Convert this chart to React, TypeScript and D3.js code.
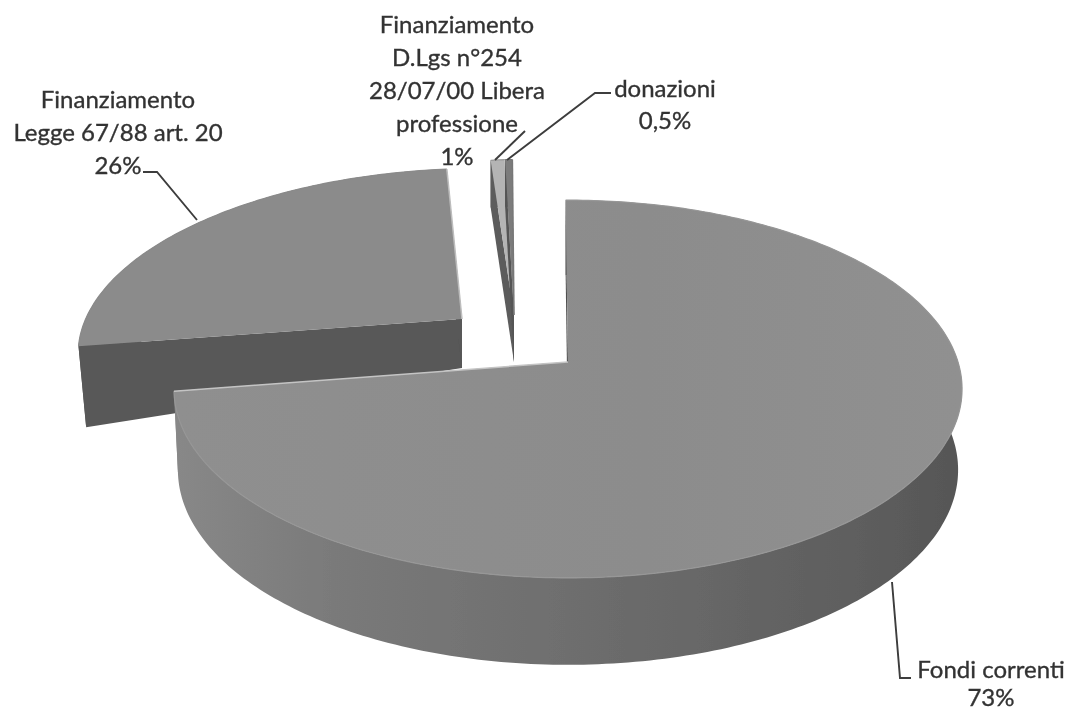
import React from "react";
import * as d3 from "d3";

// Data
const categories = ["Fondi correnti", "Finanziamento Legge 67/88 art. 20", "Finanziamento D.Lgs n°254 28/07/00 Libera professione", "donazioni"];
const values = [73, 26, 1, 0.5];

const labelLines = [
  ["Fondi correnti", "73%"],
  ["Finanziamento", "Legge 67/88 art. 20", "26%"],
  ["Finanziamento", "D.Lgs n°254", "28/07/00 Libera", "professione", "1%"],
  ["donazioni", "0,5%"],
];

// Presentation
const WIDTH = 1070;
const HEIGHT = 711;
const RX = 390;
const RY = 185;
const PERSP = 0.143;
const START = (-0.4 * Math.PI) / 180;

type Look = {
  ax: number; ay: number; // apex of the top face
  sx: number; sy: number; shear: number; // shape of the top face
  dApex: number; dRim: number; bx: number; by: number; // wall below the top face
  top: string; wall: string; edge: string; rim: string;
};

const looks: Look[] = [
  { ax: 568, ay: 362, sx: 1, sy: 1, shear: 0, dApex: 80, dRim: 80, bx: 0.99, by: 1.032, top: "url(#topMain)", wall: "url(#wallMain)", edge: "#c4c4c4", rim: "#979797" },
  { ax: 462, ay: 319, sx: 0.965, sy: 0.93, shear: -0.12, dApex: 49, dRim: 81, bx: 0.98, by: 1, top: "#8b8b8b", wall: "#585858", edge: "#bdbdbd", rim: "#8b8b8b" },
  { ax: 514, ay: 315, sx: 0.68, sy: 0.96, shear: 0, dApex: 47, dRim: 47, bx: 1, by: 1, top: "#b4b4b4", wall: "#5c5c5c", edge: "#c8c8c8", rim: "#999" },
  { ax: 514, ay: 315, sx: 0.68, sy: 0.96, shear: 0, dApex: 47, dRim: 47, bx: 1, by: 1, top: "#7c7c7c", wall: "#555555", edge: "#777", rim: "#777" },
];

type Pt = [number, number];

// Perspective projection of a point of the unit disc, relative to the apex
function project(a: number, r: number, k: Look): Pt {
  const X = Math.sin(a) * r;
  const Y = -Math.cos(a) * r;
  const w = 1 - PERSP * Y;
  const x = ((X / w) * RX) * k.sx;
  const y = ((Y / w) * RY) * k.sy;
  return [x + k.shear * y, y];
}
const topPt = (a: number, r: number, k: Look): Pt => {
  const [x, y] = project(a, r, k);
  return [k.ax + x, k.ay + y];
};
const botPt = (a: number, r: number, k: Look): Pt => {
  const [x, y] = project(a, r, k);
  return [k.ax + x * k.bx, k.ay + y * k.by + k.dApex + (k.dRim - k.dApex) * r];
};

const line = d3.line<Pt>().x((d) => d[0]).y((d) => d[1]);
const closed = (pts: Pt[]) => (line(pts) as string) + "Z";

const arcs = d3.pie<number>().sort(null).startAngle(START).endAngle(START + 2 * Math.PI)(values);

function samples(a0: number, a1: number) {
  const n = Math.max(4, Math.ceil(Math.abs(a1 - a0) * 60));
  return d3.range(n + 1).map((i) => a0 + ((a1 - a0) * i) / n);
}

function Slice({ i }: { i: number }) {
  const k = looks[i];
  const a0 = arcs[i].startAngle;
  const a1 = arcs[i].endAngle;
  const as = samples(a0, a1);
  const rimTop = as.map((a) => topPt(a, 1, k));
  const rimBot = as.map((a) => botPt(a, 1, k));
  const apex = topPt(0, 0, k);
  const apexB = botPt(0, 0, k);
  return (
    <g>
      <path d={closed([...rimTop, ...rimBot.slice().reverse()])} fill={k.wall} />
      <path d={closed([rimTop[0], apex, apexB, rimBot[0]])} fill={i === 0 ? "#4f4f4f" : k.wall} />
      <path d={closed([rimTop[rimTop.length - 1], apex, apexB, rimBot[rimBot.length - 1]])} fill={k.wall} />
      <path d={closed([apex, ...rimTop])} fill={k.top} />
      <path d={line(rimTop) as string} fill="none" stroke={k.rim} strokeWidth={1.2} />
      <path d={line([rimTop[rimTop.length - 1], apex]) as string} fill="none" stroke={k.edge} strokeWidth={1.5} />
    </g>
  );
}

// Label layout: centre x, first baseline, line height
const labelPos = [
  { x: 991, y: 678, lh: 28 },
  { x: 118, y: 108, lh: 33 },
  { x: 457, y: 33, lh: 33 },
  { x: 665, y: 97, lh: 32 },
];

const leaders: Pt[][] = [
  [[892, 582], [900, 678], [911, 678]],
  [[197, 220], [157, 172], [143, 172]],
  [[495, 160], [525, 131]],
  [[507, 160], [595, 93], [611, 93]],
];

export default function App() {
  return (
    <svg
      width={WIDTH}
      height={HEIGHT}
      viewBox={`0 0 ${WIDTH} ${HEIGHT}`}
      style={{ position: "absolute", left: 0, top: 0, display: "block", background: "#fff" }}
    >
      <defs>
        <linearGradient id="wallMain" gradientUnits="userSpaceOnUse" x1={175} y1={0} x2={960} y2={0}>
          <stop offset="0" stopColor="#888" />
          <stop offset="0.2" stopColor="#7a7a7a" />
          <stop offset="0.55" stopColor="#6c6c6c" />
          <stop offset="0.85" stopColor="#5f5f5f" />
          <stop offset="1" stopColor="#565656" />
        </linearGradient>
        <linearGradient id="topMain" gradientUnits="userSpaceOnUse" x1={175} y1={0} x2={960} y2={0}>
          <stop offset="0" stopColor="#8f8f8f" />
          <stop offset="0.6" stopColor="#8c8c8c" />
          <stop offset="1" stopColor="#909090" />
        </linearGradient>
        <filter id="scan" x="-2%" y="-2%" width="104%" height="104%">
          <feGaussianBlur stdDeviation="0.55" />
        </filter>
      </defs>
      <g filter="url(#scan)">
        <Slice i={1} />
        <Slice i={2} />
        <Slice i={3} />
        <Slice i={0} />
        {leaders.map((l, i) => (
          <path key={i} d={line(l) as string} fill="none" stroke="#3c3c3c" strokeWidth={1.9} />
        ))}
        {labelLines.map((lines, i) => (
          <text
            key={categories[i]}
            textAnchor="middle"
            fontFamily="Lato, 'Open Sans', sans-serif"
            fontSize={24}
            fill="#333"
            stroke="#333"
            strokeWidth={0.35}
          >
            {lines.map((t, j) => (
              <tspan key={j} x={labelPos[i].x} y={labelPos[i].y + j * labelPos[i].lh}>
                {t}
              </tspan>
            ))}
          </text>
        ))}
      </g>
    </svg>
  );
}
